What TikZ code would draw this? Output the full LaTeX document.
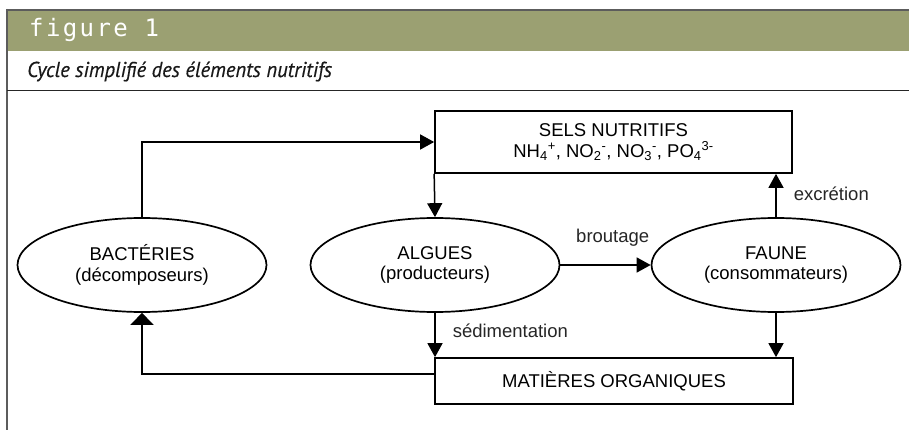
\documentclass[tikz,border=0pt]{standalone}
\usepackage{fontspec}
\setmainfont{Liberation Sans}
\newfontfamily\capfont[FakeStretch=0.96,FakeBold=0.4]{PT Sans}
\newfontfamily\titlefont[LetterSpace=10]{DejaVu Sans Mono}
\usetikzlibrary{arrows.meta,shapes.geometric}
\definecolor{band}{HTML}{9BA072}
\definecolor{rulegray}{HTML}{5C5C5C}
\newcommand\ion[2]{\textsubscript{#1}\textsuperscript{#2}}

\begin{document}
\begin{tikzpicture}[x=1pt,y=-1pt,
  every node/.style={font=\fontsize{18.5}{20.5}\selectfont, text=black},
  boxnode/.style={draw, line width=1.7pt, rectangle, inner sep=0pt, align=center},
  oval/.style={draw, line width=1.7pt, ellipse, inner sep=0pt, align=center,
    minimum width=249pt, minimum height=94pt},
  flow/.style={line width=1.5pt, -{Triangle[length=14pt,width=15pt]}},
  flowwide/.style={line width=1.5pt, -{Triangle[length=12pt,width=23pt]}},
  lab/.style={font=\fontsize{18.5}{20.5}\selectfont, text=black!85, inner sep=0pt}
]
\useasboundingbox (0,0) rectangle (909,430);
\fill[white] (0,0) rectangle (909,430);

% header band and frame
\fill[band] (7,11) rectangle (909,51);
\draw[rulegray, line width=2pt] (6,10) -- (909,10);
\draw[rulegray, line width=2pt] (7,9) -- (7,430);
\draw[black!85, line width=1.4pt] (7,90.5) -- (909,90.5);

\node[anchor=base west, inner sep=0pt, text=white,
  font=\titlefont\fontsize{24}{24}\selectfont] (ttl) at (29,37) {figure 1};
\node[anchor=base west, inner sep=0pt, text=black!90,
  font=\capfont\itshape\fontsize{21.5}{21.5}\selectfont] (cap) at (27,77)
  {Cycle simplifié des éléments nutritifs};

% compartments
\node[boxnode, minimum width=357pt, minimum height=62pt] (sels) at (613.5,142)
  {SELS NUTRITIFS\\NH\ion{4}{+}, NO\ion{2}{-}, NO\ion{3}{-}, PO\ion{4}{3-}};
\node[oval] (bact) at (142,265) {BACTÉRIES\\(décomposeurs)};
\node[oval] (algues) at (435,265) {ALGUES\\(producteurs)};
\node[oval] (faune) at (776,265) {FAUNE\\(consommateurs)};
\node[boxnode, minimum width=358pt, minimum height=46pt] (mat) at (614,381)
  {MATIÈRES ORGANIQUES};

% fluxes
\draw[flow] (bact.north) |- (sels.west);
\draw[flow] (sels.south west) -- (algues.north);
\draw[flow] (algues.east) -- node[lab, above=18pt, pos=0.58] {broutage} (faune.west);
\draw[flow] (faune.north) -- (faune.north |- sels.south)
  node[lab, midway, right=17pt, yshift=2pt] {excrétion};
\draw[flow] (algues.south) -- (algues.south |- mat.north)
  node[lab, midway, right=17pt, yshift=4pt] {sédimentation};
\draw[flow] (faune.south) -- (faune.south |- mat.north);
\draw[flowwide] ([yshift=7pt]mat.west) -| (bact.south);
\end{tikzpicture}
\end{document}
